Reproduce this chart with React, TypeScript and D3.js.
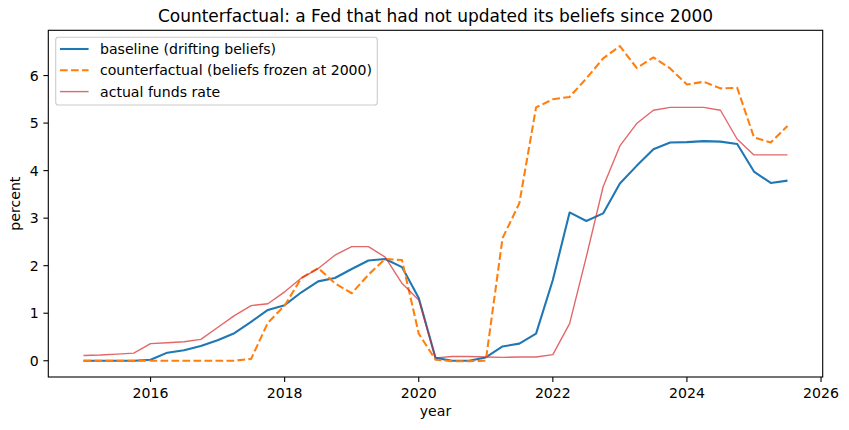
import React from "react";
import * as d3 from "d3";

// quarterly, 2015Q1 .. 2025Q3
const startYear = 2015;
const baseline = [
  0, 0, 0, 0, 0.02, 0.17, 0.22, 0.31, 0.43, 0.58, 0.82, 1.07, 1.17, 1.44, 1.67, 1.74,
  1.93, 2.11, 2.14, 1.97, 1.32, 0.06, 0, 0, 0.07, 0.3, 0.36, 0.57, 1.7, 3.12, 2.94, 3.1,
  3.73, 4.1, 4.45, 4.59, 4.6, 4.62, 4.61, 4.56, 3.98, 3.74, 3.79,
];
const counterfactual = [
  0, 0, 0, 0, 0, 0, 0, 0, 0, 0, 0.04, 0.8, 1.16, 1.74, 1.95, 1.63,
  1.42, 1.81, 2.14, 2.12, 0.57, 0.02, -0.01, -0.01, 0, 2.58, 3.31, 5.33, 5.5, 5.55, 5.94, 6.36,
  6.62, 6.16, 6.38, 6.15, 5.81, 5.87, 5.73, 5.74, 4.7, 4.59, 4.94,
];
const actual = [
  0.11, 0.12, 0.14, 0.16, 0.36, 0.38, 0.4, 0.45, 0.7, 0.95, 1.16, 1.2, 1.45, 1.74, 1.94, 2.22,
  2.4, 2.4, 2.18, 1.63, 1.28, 0.06, 0.09, 0.09, 0.08, 0.07, 0.08, 0.08, 0.13, 0.78, 2.19, 3.66,
  4.52, 4.99, 5.27, 5.33, 5.33, 5.33, 5.27, 4.66, 4.33, 4.33, 4.33,
];
const xTicks = [2016, 2018, 2020, 2022, 2024, 2026];
const yTicks = [0, 1, 2, 3, 4, 5, 6];
const legendLabels = [
  "baseline (drifting beliefs)",
  "counterfactual (beliefs frozen at 2000)",
  "actual funds rate",
];

const W = 849;
const H = 430;
const M = { left: 48.3, right: 822.7, top: 30.3, bottom: 377 };
const FONT = "DejaVu Sans, sans-serif";
const FS = 14.1;

export default function App() {
  const years = baseline.map((_, i) => startYear + i * 0.25);
  const x = d3.scaleLinear().domain([2014.475, 2026.025]).range([M.left, M.right]);
  const y = d3.scaleLinear().domain([-0.342, 6.952]).range([M.bottom, M.top]);

  const line = d3
    .line<number>()
    .x((_, i) => x(years[i]))
    .y((d) => y(d));

  const series = [
    { data: baseline, color: "#1f77b4", width: 2.08, dash: undefined, opacity: 1 },
    { data: counterfactual, color: "#ff7f0e", width: 2.08, dash: "7.7,3.3", opacity: 1 },
    { data: actual, color: "#d62728", width: 1.39, dash: undefined, opacity: 0.7 },
  ];

  const legendX = 55.7;
  const legendY = 37.3;
  const rowY = [49, 70.3, 91.6];

  return (
    <svg
      width={W}
      height={H}
      style={{ position: "absolute", left: 0, top: 0, background: "#fff" }}
      fontFamily={FONT}
    >
      <rect x={0} y={0} width={W} height={H} fill="#fff" />
      <text x={(M.left + M.right) / 2} y={22} textAnchor="middle" fontSize={17} fill="#000">
        Counterfactual: a Fed that had not updated its beliefs since 2000
      </text>

      <defs>
        <clipPath id="plotClip">
          <rect x={M.left} y={M.top} width={M.right - M.left} height={M.bottom - M.top} />
        </clipPath>
      </defs>

      <g clipPath="url(#plotClip)">
        {series.map((s, i) => (
          <path
            key={i}
            d={line(s.data) ?? ""}
            fill="none"
            stroke={s.color}
            strokeWidth={s.width}
            strokeDasharray={s.dash}
            strokeOpacity={s.opacity}
            strokeLinejoin="round"
          />
        ))}
      </g>

      {/* x axis */}
      {xTicks.map((t) => (
        <g key={t} transform={`translate(${x(t)},${M.bottom})`}>
          <line y1={0} y2={4.9} stroke="#000" strokeWidth={1.1} />
          <text y={20.6} textAnchor="middle" fontSize={FS} fill="#000">
            {t}
          </text>
        </g>
      ))}
      {/* y axis */}
      {yTicks.map((t) => (
        <g key={t} transform={`translate(${M.left},${y(t)})`}>
          <line x1={0} x2={-4.9} stroke="#000" strokeWidth={1.1} />
          <text x={-9.7} dy="0.36em" textAnchor="end" fontSize={FS} fill="#000">
            {t}
          </text>
        </g>
      ))}

      <rect
        x={M.left}
        y={M.top}
        width={M.right - M.left}
        height={M.bottom - M.top}
        fill="none"
        stroke="#000"
        strokeWidth={1.1}
      />

      <text x={(M.left + M.right) / 2} y={416} textAnchor="middle" fontSize={FS} fill="#000">
        year
      </text>
      <text
        transform={`translate(19.7,${(M.top + M.bottom) / 2}) rotate(-90)`}
        textAnchor="middle"
        fontSize={FS}
        fill="#000"
      >
        percent
      </text>

      {/* legend */}
      <rect
        x={legendX}
        y={legendY}
        width={321.6}
        height={67.7}
        rx={2.8}
        fill="#fff"
        fillOpacity={0.8}
        stroke="#cccccc"
        strokeWidth={1.1}
      />
      {series.map((s, i) => (
        <g key={i}>
          <line
            x1={60}
            x2={88.6}
            y1={rowY[i]}
            y2={rowY[i]}
            stroke={s.color}
            strokeWidth={s.width}
            strokeDasharray={s.dash}
            strokeOpacity={s.opacity}
          />
          <text x={100} y={rowY[i]} dy="0.36em" fontSize={FS} fill="#000">
            {legendLabels[i]}
          </text>
        </g>
      ))}
    </svg>
  );
}
